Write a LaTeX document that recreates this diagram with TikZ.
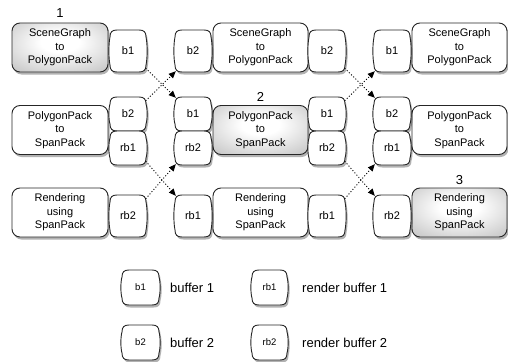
\documentclass[tikz,border=0pt]{standalone}
\usepackage{fontspec}
\setmainfont{Liberation Sans}
\usetikzlibrary{arrows.meta,shadows}
\pgfdeclareradialshading{boxshade}{\pgfpoint{0bp}{6bp}}{color(0bp)=(white); color(10bp)=(white); color(40bp)=(black!25); color(55bp)=(black!38); color(100bp)=(black!40)}
\newcommand\bufpath[4]{%
  \pgfmathsetmacro\bxl{#1}\pgfmathsetmacro\bxr{#1+#3}%
  \pgfmathsetmacro\byt{#2}\pgfmathsetmacro\byb{#2+#4}%
  \pgfmathsetmacro\bha{#2+#4/3}\pgfmathsetmacro\bhb{#2+2*#4/3}%
  \path[bufshape] (\bxl+7,\byt) -- (\bxr-7,\byt)
    .. controls (\bxr-2,\byt) and (\bxr,\byt+2) .. (\bxr,\byt+7)
    .. controls (\bxr+1.5,\bha) and (\bxr+1.5,\bhb) .. (\bxr,\byb-7)
    .. controls (\bxr,\byb-2) and (\bxr-2,\byb) .. (\bxr-7,\byb)
    -- (\bxl+7,\byb)
    .. controls (\bxl+2,\byb) and (\bxl,\byb-2) .. (\bxl,\byb-7)
    .. controls (\bxl-1.5,\bhb) and (\bxl-1.5,\bha) .. (\bxl,\byt+7)
    .. controls (\bxl,\byt+2) and (\bxl+2,\byt) .. cycle;
}
\newcommand\mkbuf[7]{%
  \bufpath{#2}{#3}{#4}{#5}
  \node[inner sep=0pt,minimum width=#4pt,minimum height=#5pt,font=\fontsize{#7}{#7}\selectfont] (#1) at ({#2+#4/2},{#3+#5/2}) {#6};
}
\begin{document}
\begin{tikzpicture}[x=1pt,y=-1pt,
  shad/.style={drop shadow={shadow xshift=1.5pt,shadow yshift=-2.5pt,opacity=0.3,fill=black}},
  outline/.style={draw=black!85,line width=0.9pt},
  mainbox/.style={outline,shad,fill=white,rounded corners=8pt,minimum height=49pt,inner sep=0pt,align=center,font=\fontsize{11}{13.5}\selectfont},
  hot/.style={shading=boxshade},
  bufshape/.style={outline,shad,fill=white},
  numlabel/.style={inner sep=0pt,font=\fontsize{13}{13}\selectfont},
  legtext/.style={anchor=west,inner sep=0pt,font=\fontsize{13}{13}\selectfont},
  flow/.style={line width=0.9pt,dash pattern=on 1pt off 2pt,-{Triangle[length=7pt,width=6pt]}}
]
\useasboundingbox (0,0) rectangle (508,361);

% main boxes
\node[mainbox,hot,minimum width=96pt] (s1a) at (60,47.5) {SceneGraph\\to\\PolygonPack};
\node[mainbox,minimum width=96pt] (s2a) at (60,130) {PolygonPack\\to\\SpanPack};
\node[mainbox,minimum width=96pt] (s3a) at (60,212.5) {Rendering\\using\\SpanPack};
\node[mainbox,minimum width=95pt] (s1b) at (260.5,47.5) {SceneGraph\\to\\PolygonPack};
\node[mainbox,hot,minimum width=95pt] (s2b) at (260.5,130) {PolygonPack\\to\\SpanPack};
\node[mainbox,minimum width=95pt] (s3b) at (260.5,212.5) {Rendering\\using\\SpanPack};
\node[mainbox,minimum width=95pt] (s1c) at (459.5,47.5) {SceneGraph\\to\\PolygonPack};
\node[mainbox,minimum width=95pt] (s2c) at (459.5,130) {PolygonPack\\to\\SpanPack};
\node[mainbox,hot,minimum width=95pt] (s3c) at (459.5,212.5) {Rendering\\using\\SpanPack};

\node[numlabel] (n1) at (60,13) {1};
\node[numlabel] (n2) at (260.5,97) {2};
\node[numlabel] (n3) at (459.5,180) {3};

% buffers row 1
\mkbuf{r1c1R}{110}{30}{36}{42}{b1}{11}
\mkbuf{r1c2L}{175}{30}{36}{42}{b2}{11}
\mkbuf{r1c2R}{309}{30}{36}{42}{b2}{11}
\mkbuf{r1c3L}{374}{30}{36}{42}{b1}{11}
% row 2
\mkbuf{r2c1Rt}{110}{97}{36}{34}{b2}{11}
\mkbuf{r2c1Rb}{110}{131}{36}{34}{rb1}{11}
\mkbuf{r2c2Lt}{175}{97}{36}{34}{b1}{11}
\mkbuf{r2c2Lb}{175}{131}{36}{34}{rb2}{11}
\mkbuf{r2c2Rt}{309}{97}{36}{34}{b1}{11}
\mkbuf{r2c2Rb}{309}{131}{36}{34}{rb2}{11}
\mkbuf{r2c3Lt}{374}{97}{36}{34}{b2}{11}
\mkbuf{r2c3Lb}{374}{131}{36}{34}{rb1}{11}
% row 3
\mkbuf{r3c1R}{110}{195}{36}{42}{rb2}{11}
\mkbuf{r3c2L}{175}{195}{36}{42}{rb1}{11}
\mkbuf{r3c2R}{309}{195}{36}{42}{rb1}{11}
\mkbuf{r3c3L}{374}{195}{36}{42}{rb2}{11}

% legend
\mkbuf{lb1}{122}{270}{37}{35}{b1}{9.5}
\mkbuf{lrb1}{252}{270}{35}{35}{rb1}{9.5}
\mkbuf{lb2}{122}{325}{37}{35}{b2}{9.5}
\mkbuf{lrb2}{252}{325}{35}{35}{rb2}{9.5}
\node[legtext] (t1) at (170,288) {buffer 1};
\node[legtext] (t2) at (302,288) {render buffer 1};
\node[legtext] (t3) at (170,343) {buffer 2};
\node[legtext] (t4) at (302,343) {render buffer 2};

% connectors
\draw[flow] ([xshift=-0.5pt,yshift=4pt]r1c1R.south east) -- ([xshift=1pt,yshift=-1pt]r2c2Lt.north west);
\draw[flow] ([xshift=-0.5pt,yshift=-4pt]r2c1Rt.north east) -- ([xshift=1pt,yshift=1pt]r1c2L.south west);
\draw[flow] ([xshift=-0.5pt,yshift=4pt]r2c1Rb.south east) -- ([xshift=1pt,yshift=-1pt]r3c2L.north west);
\draw[flow] ([xshift=-0.5pt,yshift=-4pt]r3c1R.north east) -- ([xshift=1pt,yshift=1pt]r2c2Lb.south west);
\draw[flow] ([xshift=-0.5pt,yshift=4pt]r1c2R.south east) -- ([xshift=1pt,yshift=-1pt]r2c3Lt.north west);
\draw[flow] ([xshift=-0.5pt,yshift=-4pt]r2c2Rt.north east) -- ([xshift=1pt,yshift=1pt]r1c3L.south west);
\draw[flow] ([xshift=-0.5pt,yshift=4pt]r2c2Rb.south east) -- ([xshift=1pt,yshift=-1pt]r3c3L.north west);
\draw[flow] ([xshift=-0.5pt,yshift=-4pt]r3c2R.north east) -- ([xshift=1pt,yshift=1pt]r2c3Lb.south west);
\end{tikzpicture}
\end{document}
